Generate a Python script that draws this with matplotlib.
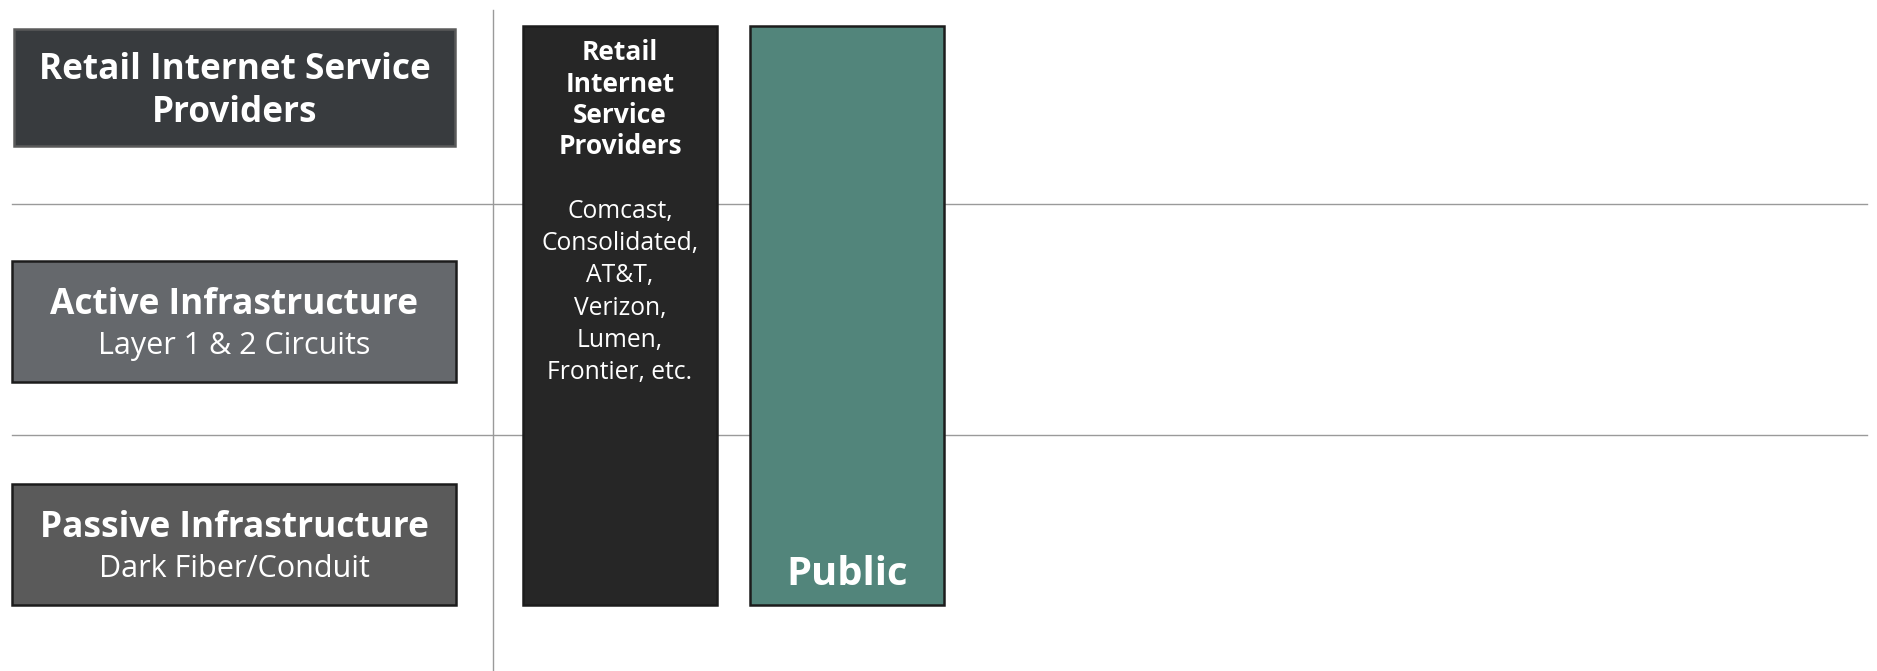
import matplotlib
matplotlib.use("Agg")
import matplotlib.pyplot as plt
from matplotlib.patches import Rectangle

plt.rcParams['font.family'] = ['Open Sans', 'DejaVu Sans']

# ---- data ----
layer_titles = ["Retail Internet Service\nProviders", "Active Infrastructure", "Passive Infrastructure"]
layer_subtitles = ["", "Layer 1 & 2 Circuits", "Dark Fiber/Conduit"]
provider_titles = ["Retail\nInternet\nService\nProviders", "Public"]
provider_examples = ["Comcast,\nConsolidated,\nAT&T,\nVerizon,\nLumen,\nFrontier, etc.", ""]

# ---- layout / style (pixel coordinates) ----
W, H = 1877, 671
layer_boxes = [(14, 29, 441, 117), (12, 261, 444, 121), (12, 484, 444, 121)]
layer_fc = ["#383b3e", "#65686c", "#5a5a5a"]
layer_ec = ["#5a5a5a", "#1c1c1c", "#1c1c1c"]
col_left = [523, 750]
col_width = 194
col_top, col_bottom = 26, 605
col_fc = ["#262626", "#52857b"]
grid_y = [203.5, 434.5]
vline_x = 493

fig = plt.figure(figsize=(W / 100, H / 100), dpi=100)
ax = fig.add_axes([0, 0, 1, 1])
ax.set_xlim(0, W)
ax.set_ylim(H, 0)
ax.axis('off')

# grid lines
for gy in grid_y:
    ax.plot([12, 1867], [gy, gy], color="#9a9a9a", lw=1.0, zorder=1)
ax.plot([vline_x, vline_x], [10, H], color="#9a9a9a", lw=1.0, zorder=1)

# layer boxes
for (x, y, w, h), fc, ec, t, s in zip(layer_boxes, layer_fc, layer_ec, layer_titles, layer_subtitles):
    ax.add_patch(Rectangle((x, y), w, h, facecolor=fc, edgecolor=ec, lw=1.8, zorder=2))
    cx = x + w / 2
    if s:
        ax.text(cx, y + h / 2 - 16.5, t, ha='center', va='center', color='white',
                fontsize=25.4, fontweight='bold', zorder=3)
        ax.text(cx, y + h / 2 + 24.5, s, ha='center', va='center', color='white',
                fontsize=22, zorder=3)
    else:
        ax.text(cx, y + h / 2 + 4, t, ha='center', va='center', color='white',
                fontsize=25.3, fontweight='bold', linespacing=1.24, zorder=3)

# provider columns
centers = [l + col_width / 2 for l in col_left]
ax.bar(centers, [col_bottom - col_top] * len(centers), bottom=col_top, width=col_width,
       color=col_fc, edgecolor="#1c1c1c", linewidth=1.8, zorder=2)

# black column text
ax.text(centers[0], 39.5, provider_titles[0], ha='center', va='top', color='white',
        fontsize=19, fontweight='bold', linespacing=1.2, zorder=3)
ax.text(centers[0], 199, provider_examples[0], ha='center', va='top', color='white',
        fontsize=17.7, linespacing=1.38, zorder=3)
# public column text
ax.text(centers[1], 585, provider_titles[1], ha='center', va='baseline', color='white',
        fontsize=28.7, fontweight='bold', zorder=3)

fig.savefig("out.png", dpi=100, facecolor='white')
